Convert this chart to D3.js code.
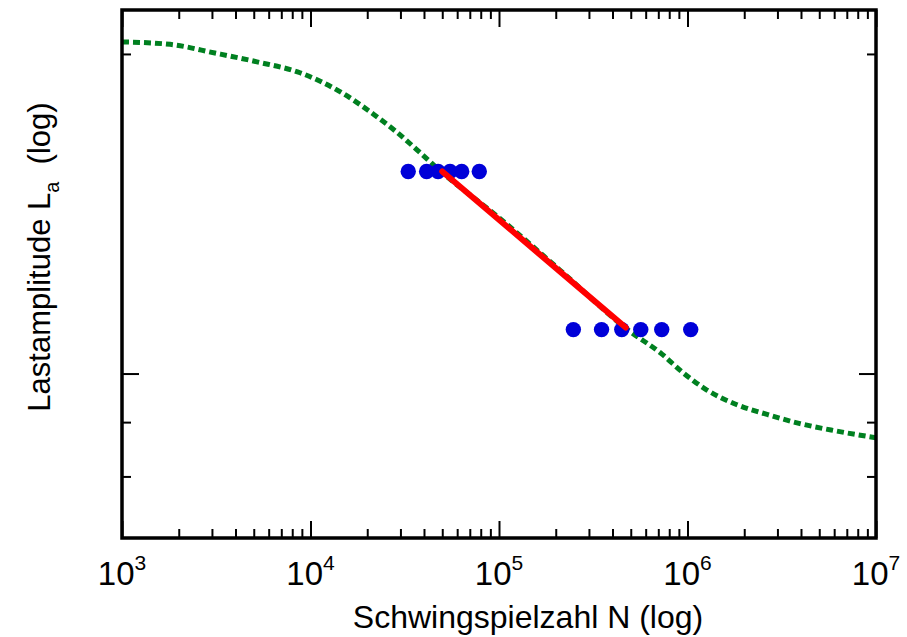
<!DOCTYPE html>
<html>
<head>
<meta charset="utf-8">
<script src="https://cdn.jsdelivr.net/npm/d3@7"></script>
<style>
  body { margin: 0; background: #fff; }
  svg text { font-family: "Liberation Sans", Arial, sans-serif; fill: #000; }
</style>
</head>
<body>
<div id="chart"></div>
<script>
// Woehler curve (log-log)
var curveN = [1000, 1800, 3110, 5200, 8800, 14700, 21500, 28100, 38100, 48600,
              101000, 211000, 484000, 732000, 946000, 1238000, 1830000, 2670000,
              3950000, 5910000, 10000000];
var curveL = [205.3, 204.2, 200.4, 196.6, 192.0, 183.8, 175.6, 169.3, 161.5, 155.3,
              140.0, 125.1, 109.9, 104.3, 100.2, 96.75, 93.46, 91.46,
              89.72, 88.4, 87.0];

// fitted line
var lineN = [50000, 470000];
var lineL = [155, 110.5];

// test points
var upperN = [33000, 41300, 47500, 55000, 63400, 78600];
var upperL = 155;
var lowerN = [248000, 350000, 448000, 565000, 730000, 1040000];
var lowerL = 110;

var xDomain = [1e3, 1e7];
var yDomain = [70, 220];
var xMajor = [1e3, 1e4, 1e5, 1e6, 1e7];
var xExp = ["3", "4", "5", "6", "7"];
var yMajor = [100];
var yMinor = [80, 90, 200];

var xTitle = "Schwingspielzahl N (log)";

function plotChart(containerId) {
    var WIDTH = 907;
    var HEIGHT = 637;
    var MARGINS = {top: 10, right: 31, bottom: 99, left: 122};

    var svg = d3.select('#' + containerId).append("svg")
        .attr("width", WIDTH)
        .attr("height", HEIGHT);

    var left = MARGINS.left, right = WIDTH - MARGINS.right;
    var top = MARGINS.top, bottom = HEIGHT - MARGINS.bottom;

    var xScale = d3.scaleLog().domain(xDomain).range([left, right]);
    var yScale = d3.scaleLog().domain(yDomain).range([bottom, top]);

    var xMinor = xScale.ticks().filter(function(d) { return xMajor.indexOf(d) < 0; });

    function styleAxis(g) {
        g.select(".domain").remove();
        g.selectAll(".tick line").attr("stroke", "#000").attr("stroke-width", 2);
        g.selectAll(".tick text").remove();
    }

    // ticks pointing inward on all four sides
    [[xMinor, 9], [xMajor, 17]].forEach(function(t) {
        svg.append("g").attr("transform", "translate(0," + bottom + ")")
            .call(d3.axisTop(xScale).tickValues(t[0]).tickSize(t[1]).tickFormat(""))
            .call(styleAxis);
        svg.append("g").attr("transform", "translate(0," + top + ")")
            .call(d3.axisBottom(xScale).tickValues(t[0]).tickSize(t[1]).tickFormat(""))
            .call(styleAxis);
    });
    [[yMinor, 9], [yMajor, 17]].forEach(function(t) {
        svg.append("g").attr("transform", "translate(" + left + ",0)")
            .call(d3.axisRight(yScale).tickValues(t[0]).tickSize(t[1]).tickFormat(""))
            .call(styleAxis);
        svg.append("g").attr("transform", "translate(" + right + ",0)")
            .call(d3.axisLeft(yScale).tickValues(t[0]).tickSize(t[1]).tickFormat(""))
            .call(styleAxis);
    });

    // x tick labels 10^n
    var lab = svg.append("g").selectAll("text")
        .data(xMajor)
        .enter().append("text")
        .attr("x", function(d) { return xScale(d); })
        .attr("y", bottom + 47)
        .attr("text-anchor", "middle")
        .style("font-size", "33px");
    lab.append("tspan").text("10");
    lab.append("tspan")
        .attr("dy", -15)
        .style("font-size", "21px")
        .text(function(d, i) { return xExp[i]; });

    svg.append("clipPath").attr("id", "clip")
        .append("rect")
        .attr("x", left).attr("y", top)
        .attr("width", right - left).attr("height", bottom - top);

    var curveData = curveN.map(function(n, i) { return {x: n, y: curveL[i]}; });
    var line = d3.line()
        .x(function(d) { return xScale(d.x); })
        .y(function(d) { return yScale(d.y); })
        .curve(d3.curveMonotoneX);

    svg.append("path")
        .datum(curveData)
        .attr("clip-path", "url(#clip)")
        .attr("d", line)
        .style("fill", "none")
        .style("stroke", "#008020")
        .style("stroke-width", 5)
        .style("stroke-dasharray", "7,4");

    var pts = upperN.map(function(n) { return {x: n, y: upperL}; })
        .concat(lowerN.map(function(n) { return {x: n, y: lowerL}; }));
    svg.append('g')
        .selectAll('circle')
        .data(pts)
        .enter().append("circle")
        .attr("cx", function(d) { return xScale(d.x); })
        .attr("cy", function(d) { return yScale(d.y); })
        .attr("r", 7.7)
        .style("fill", "#0000d8");

    var fit = lineN.map(function(n, i) { return {x: n, y: lineL[i]}; });
    svg.append("path")
        .datum(fit)
        .attr("d", d3.line().x(function(d) { return xScale(d.x); }).y(function(d) { return yScale(d.y); }))
        .style("fill", "none")
        .style("stroke", "#ff0000")
        .style("stroke-width", 6)
        .style("stroke-linecap", "round");

    // frame
    svg.append("rect")
        .attr("x", left).attr("y", top)
        .attr("width", right - left).attr("height", bottom - top)
        .style("fill", "none")
        .style("stroke", "#000")
        .style("stroke-width", 3.5);

    svg.append("text")
        .attr("x", 528)
        .attr("y", 628)
        .attr("text-anchor", "middle")
        .style("font-size", "32px")
        .text(xTitle);

    var yt = svg.append("text")
        .attr("transform", "translate(50,257) rotate(-90)")
        .attr("text-anchor", "middle")
        .style("font-size", "31px");
    yt.append("tspan").text("Lastamplitude L");
    yt.append("tspan").attr("dy", 9).style("font-size", "20px").text("a");
    yt.append("tspan").attr("dy", -9).text("\u00a0 (log)");
}

plotChart("chart");
</script>
</body>
</html>
